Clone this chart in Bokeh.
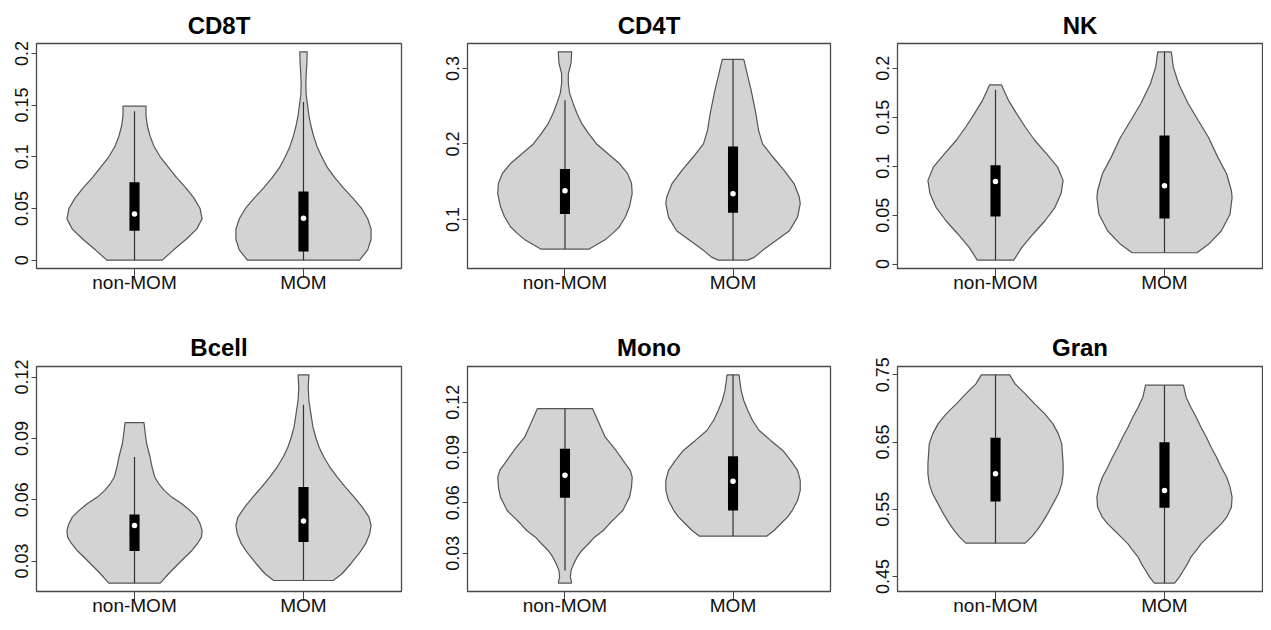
import numpy as np
from bokeh.plotting import figure
from bokeh.layouts import row, column
from bokeh.models import Range1d, FixedTicker
from bokeh.embed import file_html
from bokeh.resources import INLINE

# ---------------- data ----------------
groups = ["non-MOM", "MOM"]
group_pos = [1, 2]
titles = ["CD8T", "CD4T", "NK", "Bcell", "Mono", "Gran"]

# y ticks per panel
cd8t_ticks = [0, 0.05, 0.1, 0.15, 0.2]
cd4t_ticks = [0.1, 0.2, 0.3]
nk_ticks = [0, 0.05, 0.1, 0.15, 0.2]
bcell_ticks = [0.03, 0.06, 0.09, 0.12]
mono_ticks = [0.03, 0.06, 0.09, 0.12]
gran_ticks = [0.45, 0.55, 0.65, 0.75]

# violin profiles: y values and relative half-width (1 = widest point)
cd8t_non_y = [0, 0.01, 0.02, 0.03, 0.04, 0.05, 0.06, 0.07, 0.08, 0.09, 0.10, 0.11, 0.12, 0.13, 0.14, 0.149]
cd8t_non_w = [0.41, 0.58, 0.76, 0.92, 1.0, 0.97, 0.88, 0.76, 0.62, 0.5, 0.38, 0.29, 0.23, 0.19, 0.17, 0.17]
cd8t_mom_y = [0, 0.01, 0.02, 0.03, 0.04, 0.05, 0.06, 0.07, 0.08, 0.09, 0.10, 0.11, 0.12, 0.13, 0.14, 0.15, 0.16, 0.17, 0.18, 0.19, 0.2015]
cd8t_mom_w = [0.83, 0.95, 1.0, 1.0, 0.95, 0.86, 0.73, 0.59, 0.46, 0.35, 0.27, 0.2, 0.15, 0.11, 0.08, 0.06, 0.04, 0.035, 0.04, 0.05, 0.055]

cd4t_non_y = [0.0607, 0.0726, 0.0815, 0.0903, 0.1035, 0.117, 0.134, 0.148, 0.161, 0.174, 0.187, 0.2, 0.214, 0.227, 0.24, 0.254, 0.267, 0.28, 0.293, 0.307, 0.322]
cd4t_non_w = [0.36, 0.59, 0.71, 0.81, 0.9, 0.96, 1.0, 0.99, 0.93, 0.81, 0.64, 0.47, 0.35, 0.25, 0.18, 0.12, 0.07, 0.05, 0.05, 0.09, 0.1]
cd4t_mom_y = [0.046, 0.050, 0.059, 0.072, 0.085, 0.103, 0.121, 0.130, 0.147, 0.165, 0.183, 0.200, 0.218, 0.240, 0.271, 0.293, 0.312]
cd4t_mom_w = [0.22, 0.32, 0.44, 0.64, 0.84, 0.96, 1.0, 0.985, 0.91, 0.76, 0.59, 0.44, 0.38, 0.34, 0.27, 0.21, 0.16]

nk_non_y = [0.004, 0.017, 0.031, 0.044, 0.058, 0.072, 0.0855, 0.099, 0.113, 0.1265, 0.14, 0.154, 0.1675, 0.178, 0.183]
nk_non_w = [0.27, 0.39, 0.56, 0.73, 0.88, 0.97, 1.0, 0.92, 0.75, 0.58, 0.44, 0.31, 0.19, 0.12, 0.09]
nk_mom_y = [0.0116, 0.0202, 0.0338, 0.051, 0.068, 0.0749, 0.092, 0.109, 0.1296, 0.1467, 0.164, 0.184, 0.2014, 0.2168]
nk_mom_w = [0.48, 0.65, 0.84, 0.97, 1.0, 0.99, 0.92, 0.79, 0.65, 0.5, 0.35, 0.21, 0.13, 0.1]

bcell_non_y = [0.0192, 0.0222, 0.0254, 0.0287, 0.032, 0.0352, 0.0385, 0.0417, 0.045, 0.0483, 0.0515, 0.0548, 0.058, 0.0613, 0.0646, 0.0678, 0.071, 0.076, 0.0809, 0.0874, 0.0923, 0.0977]
bcell_non_w = [0.38, 0.46, 0.55, 0.65, 0.75, 0.85, 0.93, 0.99, 1.0, 0.97, 0.92, 0.82, 0.7, 0.55, 0.44, 0.36, 0.3, 0.26, 0.23, 0.18, 0.16, 0.14]
bcell_mom_y = [0.0205, 0.0238, 0.0287, 0.0336, 0.0385, 0.0434, 0.0474, 0.0515, 0.0564, 0.0613, 0.0662, 0.0711, 0.076, 0.0809, 0.0858, 0.0907, 0.0955, 0.102, 0.1086, 0.1151, 0.1211]
bcell_mom_w = [0.44, 0.57, 0.7, 0.82, 0.92, 0.98, 1.0, 0.97, 0.87, 0.75, 0.62, 0.5, 0.39, 0.3, 0.23, 0.18, 0.14, 0.11, 0.08, 0.07, 0.08]

mono_non_y = [0.0121, 0.0157, 0.0197, 0.0236, 0.0276, 0.0316, 0.0356, 0.0395, 0.0435, 0.0475, 0.0515, 0.0554, 0.0594, 0.0634, 0.0693, 0.0753, 0.0793, 0.0832, 0.0872, 0.0912, 0.0991, 0.1071, 0.1162]
mono_non_w = [0.1, 0.08, 0.09, 0.13, 0.18, 0.25, 0.35, 0.44, 0.57, 0.66, 0.76, 0.86, 0.91, 0.96, 0.99, 1.0, 0.97, 0.9, 0.83, 0.76, 0.6, 0.51, 0.41]
mono_mom_y = [0.0401, 0.0435, 0.0475, 0.0515, 0.0554, 0.0614, 0.0674, 0.0733, 0.0793, 0.0852, 0.0912, 0.0972, 0.1031, 0.1091, 0.115, 0.121, 0.127, 0.1329, 0.1363]
mono_mom_w = [0.5, 0.61, 0.71, 0.81, 0.88, 0.96, 1.0, 1.0, 0.96, 0.86, 0.74, 0.56, 0.39, 0.29, 0.22, 0.16, 0.12, 0.1, 0.09]

gran_non_y = [0.4996, 0.5085, 0.5184, 0.5283, 0.5432, 0.5581, 0.573, 0.5878, 0.6027, 0.6176, 0.6324, 0.6473, 0.6622, 0.677, 0.6919, 0.7068, 0.7217, 0.7366, 0.75]
gran_non_w = [0.44, 0.53, 0.61, 0.68, 0.77, 0.85, 0.93, 0.98, 1.0, 1.0, 0.99, 0.98, 0.93, 0.85, 0.73, 0.58, 0.44, 0.29, 0.21]
gran_mom_y = [0.4401, 0.449, 0.4589, 0.4688, 0.4788, 0.4887, 0.4986, 0.5085, 0.5184, 0.5283, 0.5382, 0.5531, 0.568, 0.5829, 0.5977, 0.6126, 0.6275, 0.6424, 0.6572, 0.6721, 0.687, 0.7019, 0.7167, 0.7346]
gran_mom_w = [0.15, 0.22, 0.28, 0.34, 0.39, 0.47, 0.54, 0.64, 0.74, 0.84, 0.92, 0.99, 1.0, 0.97, 0.92, 0.84, 0.77, 0.69, 0.62, 0.54, 0.47, 0.39, 0.32, 0.28]

# box statistics per panel: [non-MOM, MOM]
cd8t_q1 = [0.0285, 0.0084]; cd8t_med = [0.0447, 0.0405]; cd8t_q3 = [0.0754, 0.0663]
cd8t_wlo = [0.0, 0.0]; cd8t_whi = [0.144, 0.153]
cd4t_q1 = [0.107, 0.1088]; cd4t_med = [0.138, 0.134]; cd4t_q3 = [0.1667, 0.1967]
cd4t_wlo = [0.0607, 0.046]; cd4t_whi = [0.258, 0.312]
nk_q1 = [0.0485, 0.0465]; nk_med = [0.0844, 0.080]; nk_q3 = [0.1009, 0.1313]
nk_wlo = [0.004, 0.0116]; nk_whi = [0.178, 0.2168]
bcell_q1 = [0.0349, 0.0393]; bcell_med = [0.0474, 0.0496]; bcell_q3 = [0.0528, 0.0662]
bcell_wlo = [0.0192, 0.0205]; bcell_whi = [0.0809, 0.1065]
mono_q1 = [0.063, 0.0554]; mono_med = [0.0765, 0.0729]; mono_q3 = [0.0922, 0.0878]
mono_wlo = [0.0197, 0.0401]; mono_whi = [0.1162, 0.1363]
gran_q1 = [0.5616, 0.5521]; gran_med = [0.6027, 0.5779]; gran_q3 = [0.6563, 0.6498]
gran_wlo = [0.4996, 0.4401]; gran_whi = [0.75, 0.7346]

panels = [
    (titles[0], cd8t_ticks, [(cd8t_non_y, cd8t_non_w), (cd8t_mom_y, cd8t_mom_w)], cd8t_q1, cd8t_med, cd8t_q3, cd8t_wlo, cd8t_whi),
    (titles[1], cd4t_ticks, [(cd4t_non_y, cd4t_non_w), (cd4t_mom_y, cd4t_mom_w)], cd4t_q1, cd4t_med, cd4t_q3, cd4t_wlo, cd4t_whi),
    (titles[2], nk_ticks, [(nk_non_y, nk_non_w), (nk_mom_y, nk_mom_w)], nk_q1, nk_med, nk_q3, nk_wlo, nk_whi),
    (titles[3], bcell_ticks, [(bcell_non_y, bcell_non_w), (bcell_mom_y, bcell_mom_w)], bcell_q1, bcell_med, bcell_q3, bcell_wlo, bcell_whi),
    (titles[4], mono_ticks, [(mono_non_y, mono_non_w), (mono_mom_y, mono_mom_w)], mono_q1, mono_med, mono_q3, mono_wlo, mono_whi),
    (titles[5], gran_ticks, [(gran_non_y, gran_non_w), (gran_mom_y, gran_mom_w)], gran_q1, gran_med, gran_q3, gran_wlo, gran_whi),
]

# ---------------- layout / style ----------------
FONT = "Liberation Sans"
FILL = "#D3D3D3"
EDGE = "#555555"
FRAME_H = 225
col_borders = [(36, 365, 33), (33, 363, 33), (34, 365, 1)]
row_borders = [(43, 53), (45, 30)]
HALF_MAX = 0.4      # widest half-width of a violin in x units
BOX_HALF = 0.03     # half-width of the IQR box in x units


def make_panel(i, spec):
    title, ticks, profiles, q1, med, q3, wlo, whi = spec
    bl, fw, br = col_borders[i % 3]
    bt, bb = row_borders[i // 3]
    lo = min(min(pr[0]) for pr in profiles)
    hi = max(max(pr[0]) for pr in profiles)
    ext = 0.04 * (hi - lo)
    p = figure(width=bl + fw + br, height=bt + FRAME_H + bb,
               x_range=Range1d(0.42, 2.58), y_range=Range1d(lo - ext, hi + ext),
               output_backend="svg", toolbar_location=None, tools="",
               min_border_left=bl, min_border_right=br,
               min_border_top=bt, min_border_bottom=bb,
               background_fill_color="white", border_fill_color="white")
    p.title.text = title
    p.title.align = "center"
    p.title.text_font = FONT
    p.title.text_font_size = "24px"
    p.title.text_font_style = "bold"
    p.title.text_color = "black"
    p.title.standoff = 9 if i < 3 else 11
    p.grid.visible = False
    p.outline_line_color = "#4a4a4a"
    p.outline_line_width = 1.3

    # x axis
    xa = p.xaxis[0]
    xa.ticker = FixedTicker(ticks=group_pos)
    xa.major_label_overrides = {g: lab for g, lab in zip(group_pos, groups)}
    xa.axis_line_color = None
    xa.major_tick_in = 0
    xa.major_tick_out = 9
    xa.major_tick_line_color = "#444444"
    xa.minor_tick_line_color = None
    xa.major_label_standoff = -6
    xa.major_label_text_font = FONT
    xa.major_label_text_font_size = "19px"
    xa.major_label_text_color = "#111111"

    # y axis
    ya = p.yaxis[0]
    ya.ticker = FixedTicker(ticks=ticks)
    ya.major_label_overrides = {t: "{:g}".format(t) for t in ticks}
    ya.axis_line_color = None
    ya.major_tick_in = 0
    ya.major_tick_out = 5
    ya.major_tick_line_color = "#444444"
    ya.minor_tick_line_color = None
    ya.major_label_orientation = "vertical"
    ya.major_label_standoff = 3
    ya.major_label_text_font = FONT
    ya.major_label_text_font_size = "18px"
    ya.major_label_text_color = "#111111"

    for k, (ys, ws) in enumerate(profiles):
        c = group_pos[k]
        ys = np.asarray(ys, dtype=float)
        hw = HALF_MAX * np.asarray(ws, dtype=float)
        xs = np.concatenate([c + hw, (c - hw)[::-1]])
        yy = np.concatenate([ys, ys[::-1]])
        p.patch(xs, yy, fill_color=FILL, line_color=EDGE, line_width=1.2)

    p.segment(x0=group_pos, y0=wlo, x1=group_pos, y1=whi,
              line_color="#333333", line_width=1.2)
    p.quad(left=[g - BOX_HALF for g in group_pos], right=[g + BOX_HALF for g in group_pos],
           bottom=q1, top=q3, fill_color="black", line_color=None)
    p.scatter(x=group_pos, y=med, size=5.5, fill_color="white", line_color=None)
    return p


figs = [make_panel(i, spec) for i, spec in enumerate(panels)]
layout = column(row(*figs[:3]), row(*figs[3:]))

open("out.html", "w").write(file_html(layout, INLINE))
